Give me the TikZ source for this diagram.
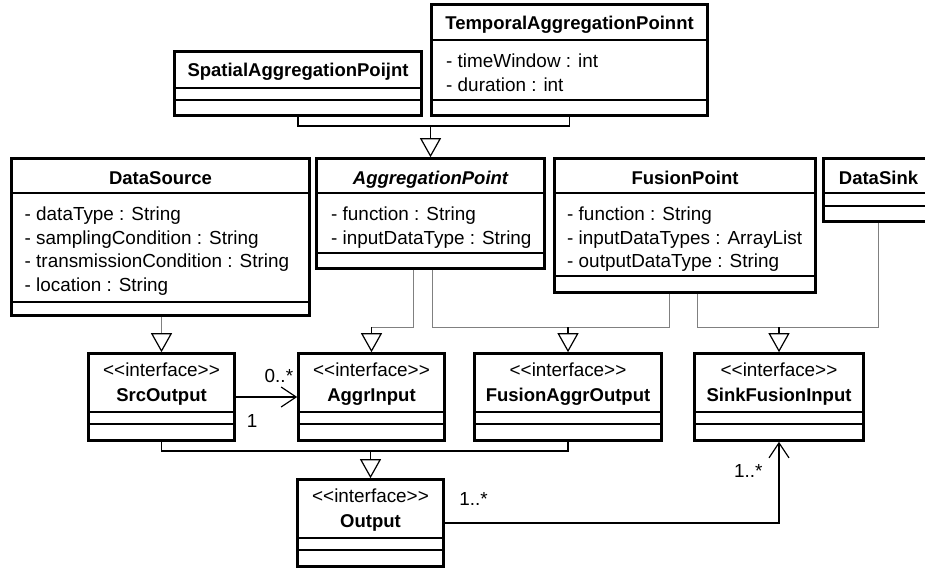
\documentclass[tikz,border=0pt]{standalone}
\usepackage{fontspec}
\setmainfont{Liberation Sans}
\usetikzlibrary{arrows.meta, positioning, calc}
\newcommand{\umlfont}{\fontsize{18.9pt}{23.5pt}\selectfont}
\newcommand{\umlbold}{\fontsize{18.5pt}{23.5pt}\selectfont\bfseries}
\newcommand{\stereo}{{<}{<}interface{>}{>}}

\begin{document}
\begin{tikzpicture}[
    x=1pt, y=-1pt,
    classbox/.style={draw, line width=2.6pt, inner sep=0pt},
    sep/.style={line width=1.2pt},
    ttl/.style={font=\umlbold, anchor=base, inner sep=0pt},
    attr/.style={font=\umlfont, align=left, anchor=north west, inner sep=0pt},
    stype/.style={font=\umlfont, anchor=base, inner sep=0pt},
    lbl/.style={font=\umlfont, inner sep=0pt},
    link/.style={line width=1.2pt},
    faint/.style={line width=0.9pt, draw=black!50},
    gen/.style={link, -{Triangle[open, length=19pt, width=21pt]}},
    assoc/.style={link, -{Straight Barb[length=15pt, width=20pt]}},
]
\useasboundingbox (0,0) rectangle (925,572);
\clip (0,0) rectangle (925,572);
% === Classes (top two rows) ===
\node[classbox, minimum width=247pt, minimum height=64pt] (spatial) at (298,83.5) {};
\node[classbox, minimum width=276pt, minimum height=111pt] (temporal) at (569.5,60) {};
\node[classbox, minimum width=298pt, minimum height=157pt] (source) at (160.5,237) {};
\node[classbox, minimum width=228pt, minimum height=110pt] (aggr) at (430.5,213.5) {};
\node[classbox, minimum width=261pt, minimum height=134pt] (fusion) at (685,225.5) {};
\node[classbox, minimum width=110pt, minimum height=63pt] (sink) at (878.5,190) {};
% === Interfaces ===
\node[classbox, minimum width=146pt, minimum height=87pt] (srcout) at (161.5,397) {};
\node[classbox, minimum width=146pt, minimum height=87pt] (aggrin) at (371.5,397) {};
\node[classbox, minimum width=187pt, minimum height=87pt] (fusout) at (568,397) {};
\node[classbox, minimum width=169pt, minimum height=87pt] (sinkin) at (779,397) {};
\node[classbox, minimum width=146pt, minimum height=87pt] (output) at (370.5,523) {};
% compartment lines
\foreach \n/\a/\b in {spatial/88/100, temporal/40/100, source/193/302, aggr/193/253,
    fusion/193/276, sink/193/206, srcout/412/424, aggrin/412/424, fusout/412/424,
    sinkin/412/424, output/538/550}
  \draw[sep] (\n.west |- 0,\a) -- (\n.east |- 0,\a) (\n.west |- 0,\b) -- (\n.east |- 0,\b);
% names and attributes
\node[ttl] (spatialT) at (298,77) {SpatialAggregationPoijnt};
\node[ttl] (temporalT) at (569.5,30) {TemporalAggregationPoinnt};
\node[ttl] (sourceT) at (160.5,184) {DataSource};
\node[ttl, font=\umlbold\itshape] (aggrT) at (430.5,184) {AggregationPoint};
\node[ttl] (fusionT) at (685,184) {FusionPoint};
\node[ttl] (sinkT) at (878.5,184) {DataSink};
\node[attr] (temporalA) at (446,54) {- timeWindow : int\\- duration : int};
\node[attr] (sourceA) at (24.5,207) {- dataType : String\\- samplingCondition : String\\- transmissionCondition : String\\- location : String};
\node[attr] (aggrA) at (331,207) {- function : String\\- inputDataType : String};
\node[attr] (fusionA) at (567,207) {- function : String\\- inputDataTypes : ArrayList\\- outputDataType : String};
\foreach \n/\t in {srcout/SrcOutput, aggrin/AggrInput, fusout/FusionAggrOutput, sinkin/SinkFusionInput, output/Output} {
  \node[stype] (\n-st) at ($(\n.north)+(0,24.5)$) {\stereo};
  \node[ttl] (\n-nm) at ($(\n.north)+(0,49)$) {\t};
}
% === Generalization into AggregationPoint ===
\coordinate (jtop) at (aggr.north |- 0,126);
\draw[link] (spatial.south) |- (jtop);
\draw[link] (temporal.south) |- (jtop);
\draw[gen] (jtop) -- (aggr.north);
% === Classes realize the interfaces (grey lines) ===
\coordinate (jsrcout) at (srcout.north |- 0,333);
\coordinate (jaggrin) at (aggrin.north |- 0,327);
\coordinate (jfusout) at (fusout.north |- 0,327);
\coordinate (jsinkin) at (sinkin.north |- 0,327);
\draw[faint] (source.south -| jsrcout) -- (jsrcout);
\draw[faint] ([xshift=-17.5pt]aggr.south) |- (jaggrin);
\draw[faint] ([xshift=1.5pt]aggr.south) |- (jfusout);
\draw[faint] ([xshift=-16pt]fusion.south) |- (jfusout);
\draw[faint] ([xshift=12pt]fusion.south) |- (jsinkin);
\draw[faint] (sink.south) |- (jsinkin);
\draw[gen] (jsrcout) -- (srcout.north);
\draw[gen] (jaggrin) -- (aggrin.north);
\draw[gen] (jfusout) -- (fusout.north);
\draw[gen] (jsinkin) -- (sinkin.north);
% === Output is the common parent ===
\coordinate (jout) at (output.north |- 0,451);
\draw[link] (srcout.south) |- (jout);
\draw[link] (fusout.south) |- (jout);
\draw[gen] (jout) -- (output.north);
% === Associations ===
\draw[assoc] (srcout) -- (aggrin)
  node[lbl, pos=1, anchor=base east, xshift=-3.5pt, yshift=15pt] (m01) {0..*}
  node[lbl, pos=0, anchor=base west, xshift=10.5pt, yshift=-30pt] (m1) {1};
\draw[assoc] (output.east) -| (sinkin.south)
  node[lbl, pos=0, anchor=base west, xshift=14pt, yshift=18pt] (m1a) {1..*}
  node[lbl, pos=1, anchor=base east, xshift=-16pt, yshift=-36pt] (m1b) {1..*};
\end{tikzpicture}
\end{document}
